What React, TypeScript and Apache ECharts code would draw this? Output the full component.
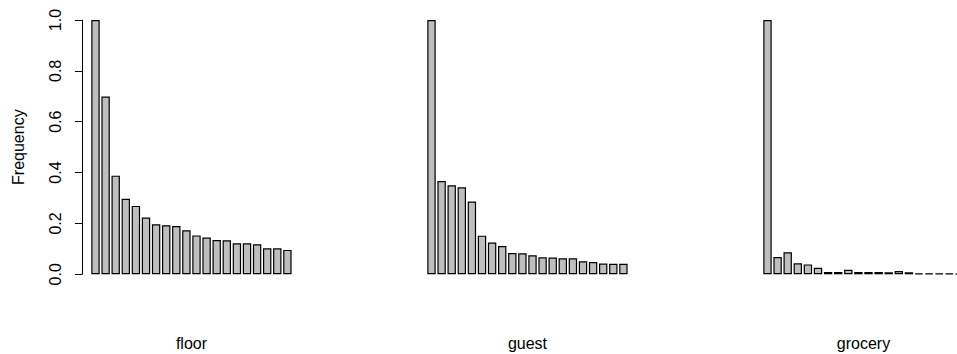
import React, { useEffect, useRef } from "react";
import * as echarts from "echarts";

const ranks = ["1", "2", "3", "4", "5", "6", "7", "8", "9", "10", "11", "12", "13", "14", "15", "16", "17", "18", "19", "20"];
const panelNames = ["floor", "guest", "grocery"];
const floorValues = [1.0, 0.699, 0.388, 0.297, 0.269, 0.223, 0.197, 0.193, 0.19, 0.173, 0.153, 0.145, 0.135, 0.134, 0.122, 0.122, 0.118, 0.102, 0.102, 0.096];
const guestValues = [1.0, 0.367, 0.35, 0.342, 0.286, 0.152, 0.125, 0.111, 0.084, 0.083, 0.075, 0.067, 0.066, 0.063, 0.063, 0.051, 0.048, 0.042, 0.041, 0.041];
const groceryValues = [1.0, 0.068, 0.087, 0.043, 0.039, 0.026, 0.009, 0.009, 0.018, 0.009, 0.009, 0.009, 0.008, 0.013, 0.008, 0.003, 0.003, 0.003, 0.003, 0.002];
const yTicks = [0, 0.2, 0.4, 0.6, 0.8, 1.0];

export default function App() {
  const ref = useRef<HTMLDivElement>(null);
  useEffect(() => {
    if (!ref.current) return;
    const chart = echarts.init(ref.current, null, { renderer: "svg" });
    const font = "Liberation Sans, Arial, Helvetica, sans-serif";
    const lefts = [90.45, 426.45, 762.45];
    const seriesData = [floorValues, guestValues, groceryValues];
    chart.setOption({
      animation: false,
      backgroundColor: "#ffffff",
      textStyle: { fontFamily: font },
      grid: lefts.map((l) => ({
        left: l,
        top: 20,
        width: 202,
        height: 254.3,
        containLabel: false,
        outerBoundsMode: "none",
      })),
      xAxis: panelNames.map((name, i) => ({
        type: "category",
        gridIndex: i,
        data: ranks,
        boundaryGap: true,
        axisLine: { show: false },
        axisTick: { show: false },
        axisLabel: { show: false },
        splitLine: { show: false },
        name: name,
        nameLocation: "middle",
        nameGap: 61,
        nameTextStyle: { color: "#000", fontSize: 16, fontFamily: font },
      })),
      yAxis: panelNames.map((_, i) => ({
        type: "value",
        gridIndex: i,
        min: yTicks[0],
        max: yTicks[yTicks.length - 1],
        interval: 0.2,
        show: i === 0,
        offset: 8.5,
        splitLine: { show: false },
        axisLine: { show: true, lineStyle: { color: "#000", width: 1 } },
        axisTick: { show: true, length: 7, lineStyle: { color: "#000", width: 1 } },
        axisLabel: {
          show: true,
          rotate: 90,
          margin: 18,
          color: "#000",
          fontSize: 16,
          fontFamily: font,
          formatter: (v: number) => v.toFixed(1),
        },
        name: i === 0 ? "Frequency" : "",
        nameLocation: "middle",
        nameRotate: 90,
        nameGap: 55,
        nameTextStyle: { color: "#000", fontSize: 16, fontFamily: font },
      })),
      series: seriesData.map((d, i) => ({
        type: "bar",
        xAxisIndex: i,
        yAxisIndex: i,
        data: d,
        barWidth: 8.4,
        itemStyle: { color: "#BEBEBE", borderColor: "#000", borderWidth: 1.2 },
        emphasis: { disabled: true },
      })),
    });
    return () => chart.dispose();
  }, []);
  return (
    <div
      ref={ref}
      style={{ position: "absolute", left: 0, top: 0, width: 957, height: 354, overflow: "hidden" }}
    />
  );
}
